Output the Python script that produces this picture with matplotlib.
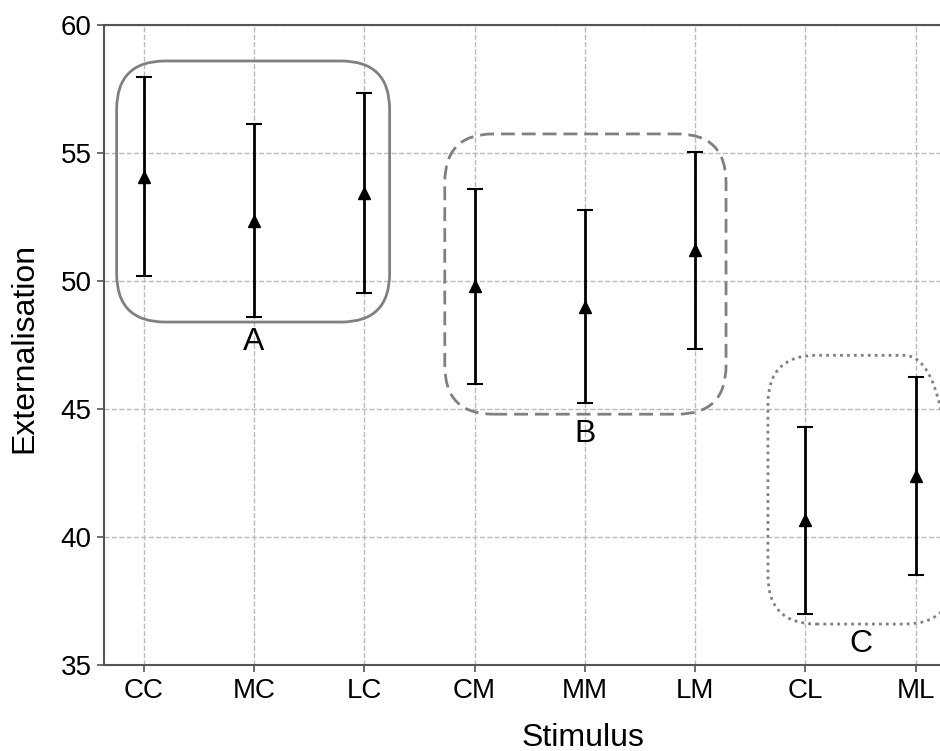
import numpy as np
import matplotlib
matplotlib.use('Agg')
import matplotlib.pyplot as plt
from matplotlib.patches import FancyBboxPatch

plt.rcParams['font.family'] = ['Liberation Sans', 'DejaVu Sans']

# Data
stimuli = ['CC', 'MC', 'LC', 'CM', 'MM', 'LM', 'CL', 'ML']
means = [54.08, 52.36, 53.43, 49.79, 48.99, 51.20, 40.65, 42.38]
errors = [3.90, 3.78, 3.90, 3.80, 3.77, 3.86, 3.64, 3.86]

# Groups: label, x range, y range, line style
group_labels = ['A', 'B', 'C']
group_x = [(-0.245, 2.23), (2.73, 5.28), (5.66, 7.34)]
group_y = [(48.4, 58.6), (44.8, 55.75), (36.6, 47.1)]
group_styles = ['-', (0, (5, 2.5)), (0, (1, 1.5))]

fig = plt.figure(figsize=(9.4, 7.51), dpi=100)
ax = fig.add_axes([0.1106, 0.1145, 0.8894, 0.852])

x = np.arange(len(stimuli))
ax.errorbar(x, means, yerr=errors, fmt='^', color='black', ecolor='black',
            markersize=8, elinewidth=2, capsize=6, capthick=1.5, zorder=3)

# aspect between x and y data units (pixels per unit)
aspect = (0.8894 * 940 / 7.58) / (0.852 * 751 / 25)
for lab, (x0, x1), (y0, y1), ls in zip(group_labels, group_x, group_y, group_styles):
    box = FancyBboxPatch((x0, y0), x1 - x0, y1 - y0,
                         boxstyle='round,pad=0,rounding_size=0.44',
                         mutation_aspect=aspect,
                         fill=False, edgecolor='#808080', linewidth=2,
                         linestyle=ls, zorder=2, clip_on=True)
    ax.add_patch(box)
    ax.text((x0 + x1) / 2, y0 - 0.78, lab, ha='center', va='center',
            fontsize=23, color='black')

ax.set_xlim(-0.36, 7.22)
ax.set_ylim(35, 60)
ax.set_xticks(x)
ax.set_xticklabels(stimuli)
ax.set_yticks([35, 40, 45, 50, 55, 60])
ax.tick_params(labelsize=20, length=5, color='#555555', width=1.2, pad=4)
ax.set_xlabel('Stimulus', fontsize=23)
ax.set_ylabel('Externalisation', fontsize=23)
ax.xaxis.set_label_coords(0.573, -0.09)
ax.yaxis.set_label_coords(-0.077, 0.495)
ax.grid(True, linestyle='--', color='#bbbbbb', linewidth=1)
ax.set_axisbelow(True)
for s in ['left', 'bottom', 'top']:
    ax.spines[s].set_color('#555555')
    ax.spines[s].set_linewidth(1.5)
ax.spines['right'].set_visible(False)

plt.savefig('out.png', dpi=100)
